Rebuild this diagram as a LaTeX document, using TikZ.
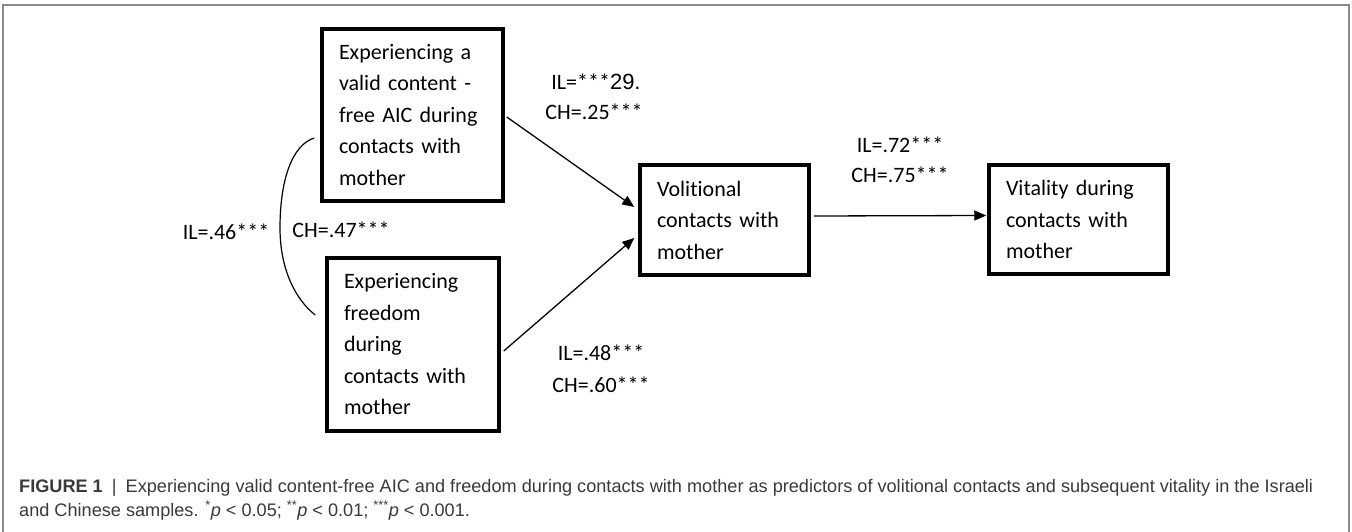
\documentclass[tikz,border=0pt]{standalone}
\usepackage{fontspec}
\setmainfont[Ligatures={NoCommon}]{Carlito}
\newfontfamily\arialf{Liberation Sans}
\usetikzlibrary{arrows.meta}
\definecolor{framegray}{HTML}{8A8A8A}
\definecolor{capgray}{HTML}{3A3A3A}
\newlength\capw
\newcommand\caplineone{\textbf{FIGURE 1}\enspace|\enspace Experiencing valid content-free AIC and freedom during contacts with mother as predictors of volitional contacts and subsequent vitality in the Israeli}
\newcommand\caplinetwo{and Chinese samples. \textsuperscript{*}\textit{p} < 0.05; \textsuperscript{**}\textit{p} < 0.01; \textsuperscript{***}\textit{p} < 0.001.}
\AtBeginDocument{%
  \settowidth\capw{\arialf\fontsize{10}{12}\selectfont\caplineone}%
  \pgfmathsetmacro\capsize{10*1294/\capw}%
}
\tikzset{
  mybox/.style={draw, line width=3.5pt, inner xsep=17pt, inner ysep=0pt, align=left,
    font=\fontsize{22}{31.5}\selectfont},
  lab/.style={font=\fontsize{22}{24}\selectfont, inner sep=0pt},
  arr/.style={line width=1.3pt, -{Triangle[length=12pt,width=10pt]}},
  corr/.style={line width=1.2pt},
  frameline/.style={framegray, line width=1.5pt},
  capnode/.style={anchor=base west, inner sep=0pt, text=capgray}
}
\begin{document}
\begin{tikzpicture}[x=1pt,y=-1pt]
\useasboundingbox (0,0) rectangle (1352,532);
\fill[white] (0,0) rectangle (1352,532);
\draw[frameline] (3,532) -- (3,5) -- (1349,5) -- (1349,532);

% boxes
\node[mybox, text width=147pt, minimum height=172pt] (b1) at (412.5,115)
  {Experiencing a\\valid content -\\free AIC during\\contacts with\\mother};
\node[mybox, text width=138pt, minimum height=173pt] (b2) at (413,344.5)
  {Experiencing\\freedom\\during\\contacts with\\mother};
\node[mybox, text width=135pt, minimum height=110pt] (vol) at (724.5,220)
  {Volitional\\contacts with\\mother};
\node[mybox, text width=145pt, minimum height=109pt] (vit) at (1078.5,219.5)
  {Vitality during\\contacts with\\mother};

% connectors
\draw[arr] ([xshift=2pt,yshift=-2pt]b1.east) -- ([xshift=-4pt,yshift=13pt]vol.west);
\draw[arr] ([xshift=3pt,yshift=-6.5pt]b2.east) -- ([xshift=-4pt,yshift=-18pt]vol.west);
\draw[arr] ([xshift=3pt,yshift=4pt]vol.east) -- ([xshift=-1pt,yshift=4pt]vit.west);

% correlation curve
\coordinate (c1) at ([xshift=-6pt,yshift=-23pt]b1.west);
\coordinate (c2) at ([xshift=-10pt,yshift=29.5pt]b2.west);
\draw[corr] (c1) .. controls (292,145) and (280,180) .. (280,228)
  .. controls (280,270) and (296,300) .. (c2);

% labels
\node[lab] (l1a) at (596,82) {IL=***{\arialf 29.}};
\node[lab] (l1b) at (594,112) {CH=.25***};
\node[lab] (l2a) at (900,145) {IL=.72***};
\node[lab] (l2b) at (900,175) {CH=.75***};
\node[lab] (l3a) at (601,353) {IL=.48***};
\node[lab] (l3b) at (601,385) {CH=.60***};
\node[lab] (l4a) at (226,232) {IL=.46***};
\node[lab] (l4b) at (341,230) {CH=.47***};

% caption
\node[capnode, font=\arialf\fontsize{\capsize}{24}\selectfont] (cap1) at (19,492) {\caplineone};
\node[capnode, font=\arialf\fontsize{\capsize}{24}\selectfont] (cap2) at (19,516) {\caplinetwo};
\end{tikzpicture}
\end{document}
